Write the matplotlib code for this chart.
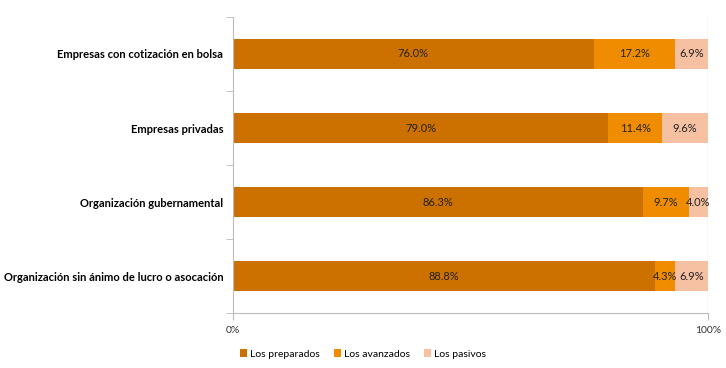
import matplotlib.pyplot as plt
from matplotlib.patches import Patch
import numpy as np

plt.rcParams['font.family'] = ['Lato', 'DejaVu Sans']

categorias = ['Empresas con cotización en bolsa', 'Empresas privadas',
              'Organización gubernamental', 'Organización sin ánimo de lucro o asocación']
preparados = [76.0, 79.0, 86.3, 88.8]
avanzados = [17.2, 11.4, 9.7, 4.3]
pasivos = [6.9, 9.6, 4.0, 6.9]
series = ['Los preparados', 'Los avanzados', 'Los pasivos']
colores = ['#CC7000', '#F08C00', '#F6C0A2']

datos = np.array([preparados, avanzados, pasivos])
totales = datos.sum(axis=0)
anchos = datos / totales * 100

fig = plt.figure(figsize=(7.26, 3.68), dpi=100)
ax = fig.add_axes([0.321, 0.149, 0.654, 0.805])

y = np.arange(len(categorias))
izq = np.zeros(len(categorias))
for k in range(3):
    ax.barh(y, anchos[k], left=izq, height=0.4, color=colores[k], edgecolor='none')
    for i in range(len(categorias)):
        ax.text(izq[i] + anchos[k][i] / 2, y[i], '%.1f%%' % datos[k][i],
                ha='center', va='center', fontsize=8, color='#222222')
    izq += anchos[k]

ax.set_xlim(0, 100)
ax.set_ylim(len(categorias) - 0.5, -0.5)
ax.set_xticks([0, 100])
ax.set_xticklabels(['0%', '100%'], fontsize=7.5, color='#333333')
ax.set_yticks(y)
ax.set_yticklabels(categorias, fontsize=8, fontweight='bold')
ax.tick_params(axis='y', length=0, pad=7)
ax.set_yticks(np.arange(len(categorias) + 1) - 0.5, minor=True)
ax.tick_params(axis='y', which='minor', length=5, color='#BBBBBB')
ax.tick_params(axis='x', length=5, color='#BBBBBB', pad=4)

ax.axvline(100, color='#DDDDDD', linewidth=1, zorder=0)
for s in ['top', 'right']:
    ax.spines[s].set_visible(False)
for s in ['left', 'bottom']:
    ax.spines[s].set_color('#BBBBBB')

manijas = [Patch(facecolor=c, edgecolor='none') for c in colores]
fig.legend(manijas, series, loc='center', bbox_to_anchor=(0.5, 0.038), ncol=3,
           frameon=False, fontsize=7.5, handlelength=0.7, handleheight=0.7,
           handletextpad=0.3, columnspacing=1.3)

plt.savefig('out.png', dpi=100)
